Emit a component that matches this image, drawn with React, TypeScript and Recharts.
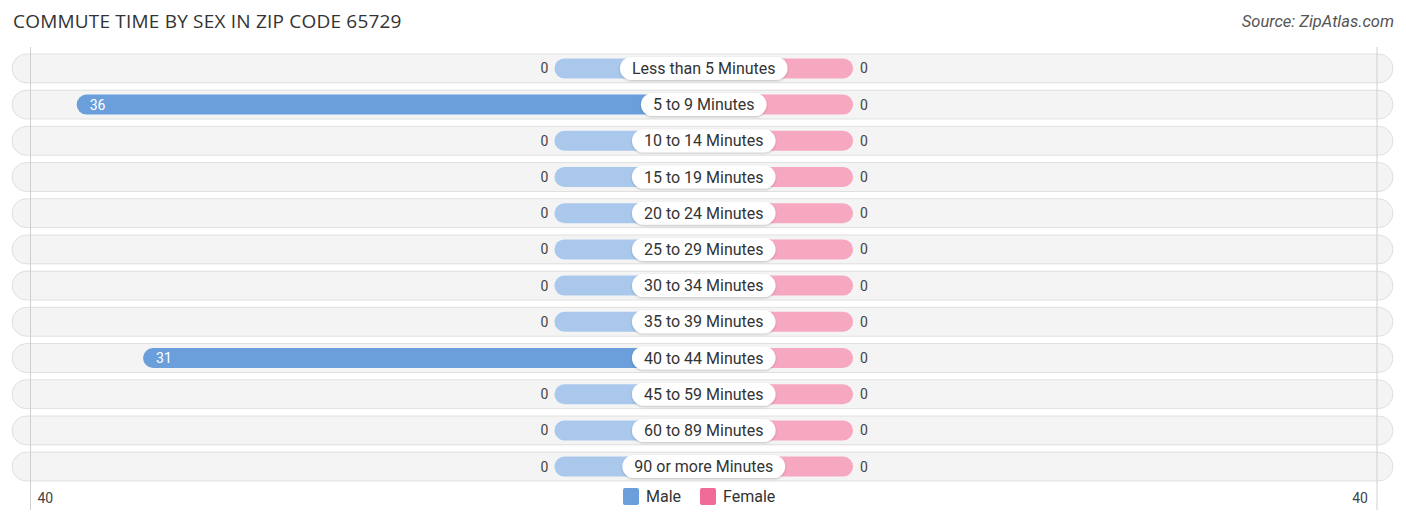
import { BarChart, Bar, XAxis, YAxis, Cell, LabelList } from 'recharts'

const categories = [
  'Less than 5 Minutes',
  '5 to 9 Minutes',
  '10 to 14 Minutes',
  '15 to 19 Minutes',
  '20 to 24 Minutes',
  '25 to 29 Minutes',
  '30 to 34 Minutes',
  '35 to 39 Minutes',
  '40 to 44 Minutes',
  '45 to 59 Minutes',
  '60 to 89 Minutes',
  '90 or more Minutes',
]
const maleValues = [0, 36, 0, 0, 0, 0, 0, 0, 31, 0, 0, 0]
const femaleValues = [0, 0, 0, 0, 0, 0, 0, 0, 0, 0, 0, 0]
const tickLabels = ['40', '40']
const seriesNames = ['Male', 'Female']

// room left in the middle for the category pill, in axis units
const OFFSET = 11.25
const EDGE = 50.73

const MALE = '#6a9fdb'
const MALE_LIGHT = '#a9c8ec'
const FEMALE = '#f06b97'
const FEMALE_LIGHT = '#f7a8c1'
const FONT = 'Roboto, "Noto Sans", sans-serif'

const data = categories.map((name, i) => ({
  name,
  male: maleValues[i],
  female: femaleValues[i],
  maleBar: -(maleValues[i] + OFFSET),
  femaleBar: femaleValues[i] + OFFSET,
}))

let ctx: CanvasRenderingContext2D | null = null
function textWidth(text: string, font: string) {
  if (!ctx) ctx = document.createElement('canvas').getContext('2d')
  if (!ctx) return text.length * 8
  ctx.font = font
  return ctx.measureText(text).width
}

function box(props: any) {
  const vb = props.viewBox || props
  const x = Number(vb.x)
  const w = Number(vb.width)
  return { left: Math.min(x, x + w), right: Math.max(x, x + w), cy: Number(vb.y) + Number(vb.height) / 2 }
}

function RowBackground(props: any) {
  const { x, y, width, height } = props
  return (
    <rect
      x={x - 18.5}
      y={y - 4.5}
      width={width + 34.5}
      height={height + 9}
      rx={14.5}
      fill="#000"
      fillOpacity={0.045}
      stroke="#000"
      strokeOpacity={0.1}
      strokeWidth={1}
    />
  )
}

function MaleLabel(props: any) {
  const { left, cy } = box(props)
  const v = Number(props.value)
  if (v > 0) {
    return (
      <text x={left + 13} y={cy} dy={5} fill="#fff" fontSize={14} fontFamily={FONT}>
        {v}
      </text>
    )
  }
  return (
    <text x={left - 6} y={cy} dy={5} textAnchor="end" fill="#444" fontSize={14} fontFamily={FONT}>
      {v}
    </text>
  )
}

function FemaleLabel(props: any) {
  const { right, cy } = box(props)
  return (
    <text x={right + 7} y={cy} dy={5} fill="#444" fontSize={14} fontFamily={FONT}>
      {Number(props.value)}
    </text>
  )
}

function CategoryPill(props: any) {
  const vb = props.viewBox || props
  const cx = Number(vb.x)
  const cy = Number(vb.y) + Number(vb.height) / 2
  const label = String(props.value)
  const w = textWidth(label, `16px ${FONT}`) + 24
  return (
    <g>
      <rect x={cx - w / 2} y={cy - 11.5} width={w} height={23} rx={11.5} fill="#fff" filter="url(#pillShadow)" />
      <text x={cx} y={cy} dy={5.5} textAnchor="middle" fill="#333" fontSize={16} fontFamily={FONT}>
        {label}
      </text>
    </g>
  )
}

function EdgeTick(props: any) {
  const { x, index } = props
  const isLeft = index === 0
  return (
    <g>
      <line x1={x} x2={x} y1={47} y2={510} stroke="#cfcfcf" strokeWidth={1} />
      <text
        x={isLeft ? x + 7 : x - 9}
        y={503}
        textAnchor={isLeft ? 'start' : 'end'}
        fill="#444"
        fontSize={14}
        fontFamily={FONT}
      >
        {tickLabels[index]}
      </text>
    </g>
  )
}

export default function App() {
  const legendColors = [MALE, FEMALE]
  const legendX = [623, 700]
  return (
    <div style={{ position: 'absolute', left: 0, top: 0, width: 1406, height: 522, background: '#fff' }}>
      <div
        style={{
          position: 'absolute',
          left: 13,
          top: 8,
          fontFamily: '"Open Sans", sans-serif',
          fontSize: 19,
          letterSpacing: 0.2,
          color: '#333',
          whiteSpace: 'nowrap',
        }}
      >
        COMMUTE TIME BY SEX IN ZIP CODE 65729
      </div>
      <div
        style={{
          position: 'absolute',
          right: 12,
          top: 12,
          fontFamily: FONT,
          fontStyle: 'italic',
          fontSize: 16.5,
          color: '#555',
          whiteSpace: 'nowrap',
        }}
      >
        Source: ZipAtlas.com
      </div>
      <BarChart
        width={1406}
        height={522}
        data={data}
        layout="vertical"
        stackOffset="sign"
        barSize={20}
        margin={{ top: 50.4, right: 29, bottom: 7.2, left: 30.5 }}
      >
        <defs>
          <filter id="pillShadow" x="-10%" y="-30%" width="120%" height="160%">
            <feDropShadow dx={0} dy={1} stdDeviation={1.2} floodColor="#000" floodOpacity={0.22} />
          </filter>
        </defs>
        <XAxis
          type="number"
          domain={[-EDGE, EDGE]}
          ticks={[-EDGE, EDGE]}
          height={30}
          axisLine={false}
          tickLine={false}
          tick={<EdgeTick />}
          interval={0}
        />
        <YAxis type="category" dataKey="name" hide />
        <Bar dataKey="maleBar" stackId="a" radius={10} background={<RowBackground />} isAnimationActive={false}>
          {data.map((d, i) => (
            <Cell key={i} fill={d.male > 0 ? MALE : MALE_LIGHT} />
          ))}
          <LabelList dataKey="male" content={<MaleLabel />} />
        </Bar>
        <Bar dataKey="femaleBar" stackId="a" radius={10} isAnimationActive={false}>
          {data.map((d, i) => (
            <Cell key={i} fill={d.female > 0 ? FEMALE : FEMALE_LIGHT} />
          ))}
          <LabelList dataKey="female" content={<FemaleLabel />} />
          <LabelList dataKey="name" content={<CategoryPill />} />
        </Bar>
      </BarChart>
      {seriesNames.map((name, i) => (
        <div
          key={name}
          style={{
            position: 'absolute',
            left: legendX[i],
            top: 487,
            display: 'flex',
            alignItems: 'center',
            fontFamily: FONT,
            fontSize: 16,
            color: '#333',
            whiteSpace: 'nowrap',
          }}
        >
          <span
            style={{
              width: 16,
              height: 17,
              background: legendColors[i],
              borderRadius: 2,
              marginRight: 7,
              display: 'inline-block',
            }}
          />
          {name}
        </div>
      ))}
    </div>
  )
}
